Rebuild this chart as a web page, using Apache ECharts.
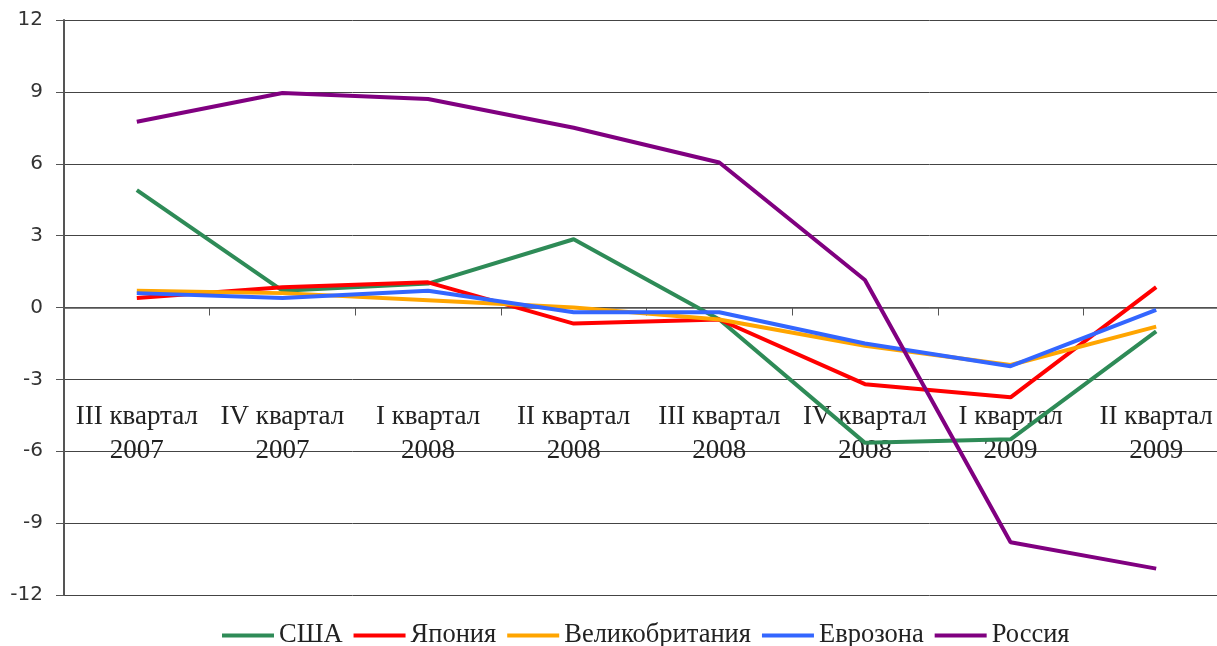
<!DOCTYPE html>
<html>
<head>
<meta charset="utf-8">
<script src="https://cdn.jsdelivr.net/npm/echarts@6/dist/echarts.min.js"></script>
<style>html,body{margin:0;padding:0;background:#fff;}#c{width:1217px;height:646px;}</style>
</head>
<body>
<div id="c"></div>
<script>
var quarters = ['III квартал','IV квартал','I квартал','II квартал','III квартал','IV квартал','I квартал','II квартал'];
var years = ['2007','2007','2008','2008','2008','2008','2009','2009'];
var usa = [4.9, 0.7, 1.0, 2.85, -0.5, -5.65, -5.5, -1.0];
var japan = [0.4, 0.85, 1.05, -0.67, -0.5, -3.2, -3.75, 0.85];
var uk = [0.7, 0.6, 0.3, 0.0, -0.5, -1.6, -2.4, -0.8];
var euro = [0.6, 0.4, 0.7, -0.2, -0.2, -1.5, -2.45, -0.1];
var russia = [7.75, 8.95, 8.7, 7.5, 6.05, 1.15, -9.8, -10.9];
var seriesNames = ['США','Япония','Великобритания','Еврозона','Россия'];
var colors = ['#2E8B57','#FF0000','#FFA500','#3366FF','#800080'];
var yTicks = {min: -12, max: 12, interval: 3};

var categories = quarters.map(function(q, i){ return q + '\n' + years[i]; });
var allData = [usa, japan, uk, euro, russia];

var chart = echarts.init(document.getElementById('c'));
chart.setOption({
  animation: false,
  backgroundColor: '#fff',
  grid: {left: 64, top: 20, width: 1165, height: 575, containLabel: false, outerBoundsMode: 'none'},
  legend: {
    top: 622, left: 222,
    padding: 0,
    data: seriesNames,
    icon: 'rect', itemWidth: 52, itemHeight: 4, itemGap: 11,
    textStyle: {fontFamily: 'Liberation Serif', fontSize: 26.5, color: '#222'}
  },
  xAxis: {
    type: 'category',
    data: categories,
    boundaryGap: true,
    axisLine: {onZero: true, lineStyle: {color: '#555', width: 1.5}},
    axisTick: {show: true, length: 8, lineStyle: {color: '#555'}},
    axisLabel: {margin: -195, fontFamily: 'Liberation Serif', fontSize: 27, color: '#222', lineHeight: 34, interval: 0},
    splitLine: {show: false}
  },
  yAxis: {
    type: 'value',
    min: yTicks.min, max: yTicks.max, interval: yTicks.interval,
    axisLine: {show: true, lineStyle: {color: '#555', width: 2}},
    axisTick: {show: true, length: 8, lineStyle: {color: '#555'}},
    axisLabel: {margin: 21, fontFamily: 'DejaVu Sans', fontSize: 20, color: '#333'},
    splitLine: {show: true, lineStyle: {color: '#444', width: 1}}
  },
  series: seriesNames.map(function(n, i){
    return {
      name: n, type: 'line', data: allData[i],
      symbol: 'none', color: colors[i],
      lineStyle: {width: 4, color: colors[i]}
    };
  })
});
</script>
</body>
</html>
